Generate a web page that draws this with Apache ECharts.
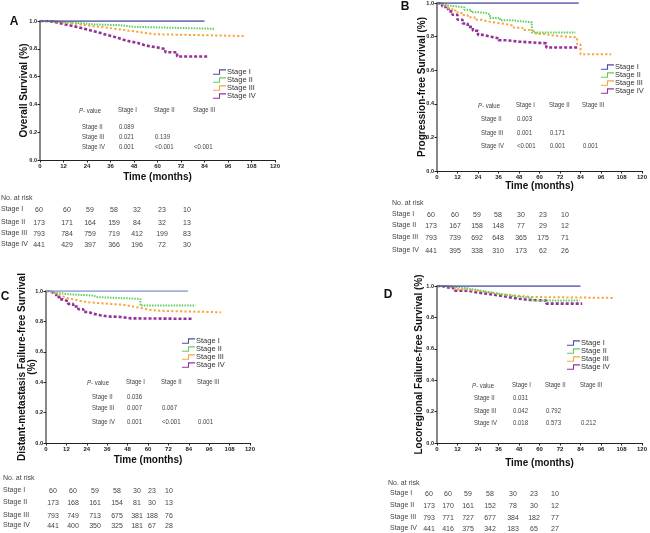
<!DOCTYPE html>
<html><head><meta charset="utf-8">
<script src="https://cdn.jsdelivr.net/npm/echarts@6/dist/echarts.min.js"></script>
<style>html,body{margin:0;padding:0;background:#fff}#c{width:650px;height:533px}</style>
</head><body><div id="c"></div>
<script>
// ---------- DATA ----------
const stages = ['Stage I', 'Stage II', 'Stage III', 'Stage IV'];
const riskStageLabels = ['Stage I', 'Stage II', 'Stage III', 'Stage IV'];
const pHeader = ['Stage I', 'Stage II', 'Stage III'];
const pRowLabels = ['Stage II', 'Stage III', 'Stage IV'];

// [month, survival] Kaplan-Meier step points
const osI = [[0,1],[84,1]];
const osII = [[0,1],[5,0.995],[10,0.99],[16,0.983],[22,0.975],[28,0.97],[41,0.958],[48,0.944],[89,0.944]];
const osIII = [[0,1],[4,0.995],[8,0.99],[12,0.982],[17,0.972],[22,0.963],[27,0.955],[32,0.945],[38,0.935],[43,0.926],[48,0.916],[53,0.905],[58,0.892],[104,0.892]];
const osIV = [[0,1],[4,0.995],[7,0.985],[10,0.975],[13,0.966],[16,0.957],[19,0.947],[22,0.936],[25,0.925],[28,0.913],[31,0.9],[34,0.89],[37,0.877],[40,0.864],[43,0.853],[46,0.842],[50,0.828],[53,0.818],[56,0.81],[60,0.798],[64,0.775],[70,0.745],[86,0.745]];

const pfsI = [[0,1],[83,1]];
const pfsII = [[0,1],[2,0.993],[4,0.985],[6.5,0.978],[13,0.974],[16,0.96],[20,0.945],[24,0.94],[29,0.932],[31,0.91],[37,0.897],[44,0.89],[50,0.885],[55.5,0.825],[81,0.825]];
const pfsIII = [[0,1],[2,0.99],[4,0.98],[6.5,0.968],[9,0.955],[12,0.94],[15,0.928],[18,0.915],[22,0.9],[26,0.89],[30,0.882],[35,0.875],[40,0.865],[45,0.853],[50,0.84],[54,0.83],[58,0.815],[63,0.805],[69,0.795],[82,0.755],[84,0.695],[102,0.695]];
const pfsIV = [[0,1],[1,0.995],[3,0.98],[5,0.965],[7,0.95],[9,0.93],[12,0.9],[15,0.878],[18,0.858],[21,0.835],[24,0.81],[27,0.8],[31,0.79],[36,0.778],[41,0.77],[48,0.76],[64,0.735],[82.5,0.735]];

const dmI = [[0,1],[83.5,1]];
const dmII = [[0,1],[3,0.99],[5,0.978],[14,0.97],[28,0.96],[30,0.948],[55.5,0.905],[88,0.905]];
const dmIII = [[0,1],[2,0.99],[4,0.978],[7,0.965],[10,0.952],[13,0.943],[17,0.933],[21,0.926],[25,0.92],[32,0.915],[38,0.91],[45,0.9],[50,0.89],[55,0.877],[61,0.87],[66,0.86],[103,0.86]];
const dmIV = [[0,1],[2,0.99],[4,0.978],[6,0.96],[8,0.945],[10,0.932],[13,0.915],[16,0.898],[19,0.88],[22,0.862],[25,0.85],[28,0.84],[32,0.833],[36,0.829],[44,0.82],[50,0.817],[86,0.817]];

const lrI = [[0,1],[84,1]];
const lrII = [[0,1],[5,0.995],[10.5,0.985],[18,0.973],[24,0.962],[30,0.951],[36,0.94],[41.5,0.93],[50,0.925],[55.5,0.907],[83.5,0.907]];
const lrIII = [[0,1],[5,0.993],[10.5,0.98],[16,0.97],[24,0.958],[31,0.948],[38,0.94],[46,0.93],[55,0.924],[104,0.924]];
const lrIV = [[0,1],[3,0.993],[5,0.985],[10.5,0.97],[18,0.958],[24,0.95],[30,0.94],[36,0.93],[41.5,0.919],[48,0.912],[53,0.907],[64,0.888],[85,0.888]];

// numbers at risk
const osRisk = [[60,60,59,58,32,23,10],[173,171,164,159,84,32,13],[793,784,759,719,412,199,83],[441,429,397,366,196,72,30]];
const pfsRisk = [[60,60,59,58,30,23,10],[173,167,158,148,77,29,12],[793,739,692,648,365,175,71],[441,395,338,310,173,62,26]];
const dmRisk = [[60,60,59,58,30,23,10],[173,168,161,154,81,30,13],[793,749,713,675,381,188,76],[441,400,350,325,181,67,28]];
const lrRisk = [[60,60,59,58,30,23,10],[173,170,161,152,78,30,12],[793,771,727,677,384,182,77],[441,416,375,342,183,65,27]];

// P-values (rows: Stage II, III, IV; cols: vs Stage I, II, III)
const osP = [['0.089'],['0.021','0.139'],['0.001','<0.001','<0.001']];
const pfsP = [['0.003'],['0.001','0.171'],['<0.001','0.001','0.001']];
const dmP = [['0.036'],['0.007','0.067'],['0.001','<0.001','0.001']];
const lrP = [['0.031'],['0.042','0.792'],['0.018','0.573','0.212']];

// ---------- LAYOUT / STYLE ----------
const FONT = 'Liberation Sans, Arial, sans-serif';
const PS = 7.5, PSCALE = 0.8;   // P-value table: condensed text

const panels = [
  { letter:'A', letterPos:[14,22], data:[osI,osII,osIII,osIV], yName:'Overall Survival (%)', risk:osRisk, p:osP,
    grid:{left:40,top:21,width:235,height:139}, yGap:11, xGap:12,
    legend:{left:213,top:68}, s1:'#4b4ba3',
    pL:{headX:79, headY:111, cols:[118,154,193], rowX:82, rowsY:[127,137,147]},
    rL:{titleX:1, titleY:198, labelX:1, rowsY:[210,223,234,245], cols:[39,67,90,114,137,162,187]} },
  { letter:'B', letterPos:[405,7], data:[pfsI,pfsII,pfsIII,pfsIV], yName:'Progression-free Survival (%)', risk:pfsRisk, p:pfsP,
    grid:{left:437,top:3,width:209,height:168}, yGap:10, xGap:10,
    legend:{left:601,top:63}, s1:'#4b4ba3',
    pL:{headX:478, headY:106, cols:[516,549,582], rowX:481, rowsY:[119,133,146]},
    rL:{titleX:392, titleY:203, labelX:392, rowsY:[215,226,238,251], cols:[431,455,477,498,521,543,565]} },
  { letter:'C', letterPos:[5,297], data:[dmI,dmII,dmIII,dmIV], yName:'Distant-metastasis Failure-free Survival\n(%)', risk:dmRisk, p:dmP,
    grid:{left:46,top:291,width:204,height:152}, yGap:9, xGap:12,
    legend:{left:182,top:337}, s1:'#8494cc',
    pL:{headX:87, headY:383, cols:[126,161,197], rowX:92, rowsY:[397,408,422]},
    rL:{titleX:3, titleY:478, labelX:3, rowsY:[491,503,516,526], cols:[53,73,95,117,137,152,169]} },
  { letter:'D', letterPos:[388,295], data:[lrI,lrII,lrIII,lrIV], yName:'Locoregional Failure-free Survival (%)', risk:lrRisk, p:lrP,
    grid:{left:437,top:286,width:205,height:157}, yGap:13, xGap:15,
    legend:{left:567,top:339}, s1:'#4b4ba3',
    pL:{headX:472, headY:386, cols:[512,545,580], rowX:474, rowsY:[398,411,423]},
    rL:{titleX:388, titleY:483, labelX:390, rowsY:[494,506,518,529], cols:[429,448,468,490,513,534,555]} }
];
const stageColors = [null, '#5fcf5f', '#fba43a', '#93339a'];
const stageDash = ['solid', [1.5,1.2], [2.2,2.2], [3,2]];
const stageWidth = [1.6, 2, 2, 2.6];
const stepIcon = 'path://M0,8 L11,8 L11,0 L24,0 L24,2 L13,2 L13,10 L0,10 Z';

const txtColor = '#444';
function txt(text, x, y, size, opts) {
  return { type:'text', silent:true, style:Object.assign({ text, x, y, fill:txtColor,
    font:size + 'px ' + FONT, textAlign:'left', textVerticalAlign:'middle' }, opts || {}) };
}
function ptxt(text, x, y, rich) {
  const st = { text, x:0, y:0, fill:txtColor, font:PS + 'px ' + FONT, textAlign:'left', textVerticalAlign:'middle' };
  if (rich) st.rich = rich;
  return { type:'text', silent:true, x, y, scaleX:PSCALE, scaleY:1, style:st };
}

const grids = [], xAxes = [], yAxes = [], series = [], legends = [], graphics = [];
panels.forEach((p, i) => {
  grids.push(Object.assign({}, p.grid));
  xAxes.push({ type:'value', gridIndex:i, min:0, max:120, interval:12,
    name:'Time (months)', nameLocation:'middle', nameGap:p.xGap, nameMoveOverlap:false,
    nameTextStyle:{ fontFamily:FONT, fontSize:10, fontWeight:'bold', color:'#111' },
    axisLine:{ lineStyle:{ color:'#222', width:1 } },
    axisTick:{ length:2.5, lineStyle:{ color:'#222' } },
    axisLabel:{ fontFamily:FONT, fontSize:6, fontWeight:'bold', color:'#222', margin:3 },
    splitLine:{ show:false } });
  yAxes.push({ type:'value', gridIndex:i, min:0, max:1, interval:0.2,
    name:p.yName, nameLocation:'middle', nameGap:p.yGap, nameRotate:90, nameMoveOverlap:false,
    nameTextStyle:{ fontFamily:FONT, fontSize:10, fontWeight:'bold', color:'#111', lineHeight:10 },
    axisLine:{ show:true, lineStyle:{ color:'#888', width:2 } },
    axisTick:{ show:true, length:2.5, lineStyle:{ color:'#222' } },
    axisLabel:{ fontFamily:FONT, fontSize:5.5, fontWeight:'bold', color:'#222', margin:3,
      formatter: v => v.toFixed(1) },
    splitLine:{ show:false } });
  p.data.forEach((d, k) => {
    const color = k === 0 ? p.s1 : stageColors[k];
    series.push({ name:stages[k], type:'line', xAxisIndex:i, yAxisIndex:i, step:'end',
      data:d, symbol:'none', silent:true, animation:false, z: 10 - k,
      lineStyle:{ color, width:stageWidth[k], type:stageDash[k] }, itemStyle:{ color } });
  });
  legends.push({ data:stages.map(s => ({ name:s, icon:stepIcon })), orient:'vertical', left:p.legend.left, top:p.legend.top,
    itemWidth:13, itemHeight:5.5, itemGap:0, selectedMode:false, padding:0,
    textStyle:{ fontFamily:FONT, fontSize:7.5, lineHeight:7.5, color:'#333', padding:[0,0,0,-4] } });

  // panel letter
  graphics.push(txt(p.letter, p.letterPos[0], p.letterPos[1], 12, { font:'bold 12px ' + FONT, fill:'#111', textAlign:'center' }));
  // p-value table
  const L = p.pL;
  graphics.push(ptxt('{i|P}- value', L.headX, L.headY,
    { i:{ fontStyle:'italic', fontSize:PS, fontFamily:FONT, fill:txtColor } }));
  pHeader.forEach((h, c) => graphics.push(ptxt(h, L.cols[c], L.headY - 1)));
  pRowLabels.forEach((r, ri) => {
    graphics.push(ptxt(r, L.rowX, L.rowsY[ri]));
    p.p[ri].forEach((v, c) => graphics.push(ptxt(v, L.cols[c] + 1, L.rowsY[ri])));
  });
  // numbers at risk
  const R = p.rL, RS = 7;
  graphics.push(txt('No. at risk', R.titleX, R.titleY, RS));
  riskStageLabels.forEach((lab, ri) => {
    graphics.push(txt(lab, R.labelX, R.rowsY[ri] - 1, RS));
    p.risk[ri].forEach((v, c) => graphics.push(txt(String(v), R.cols[c], R.rowsY[ri], RS, { textAlign:'center' })));
  });
});

const chart = echarts.init(document.getElementById('c'), null, { renderer:'canvas' });
chart.setOption({
  animation:false, backgroundColor:'#fff',
  grid:grids, xAxis:xAxes, yAxis:yAxes, series, legend:legends,
  graphic:{ elements:graphics }
});
</script>
</body></html>
